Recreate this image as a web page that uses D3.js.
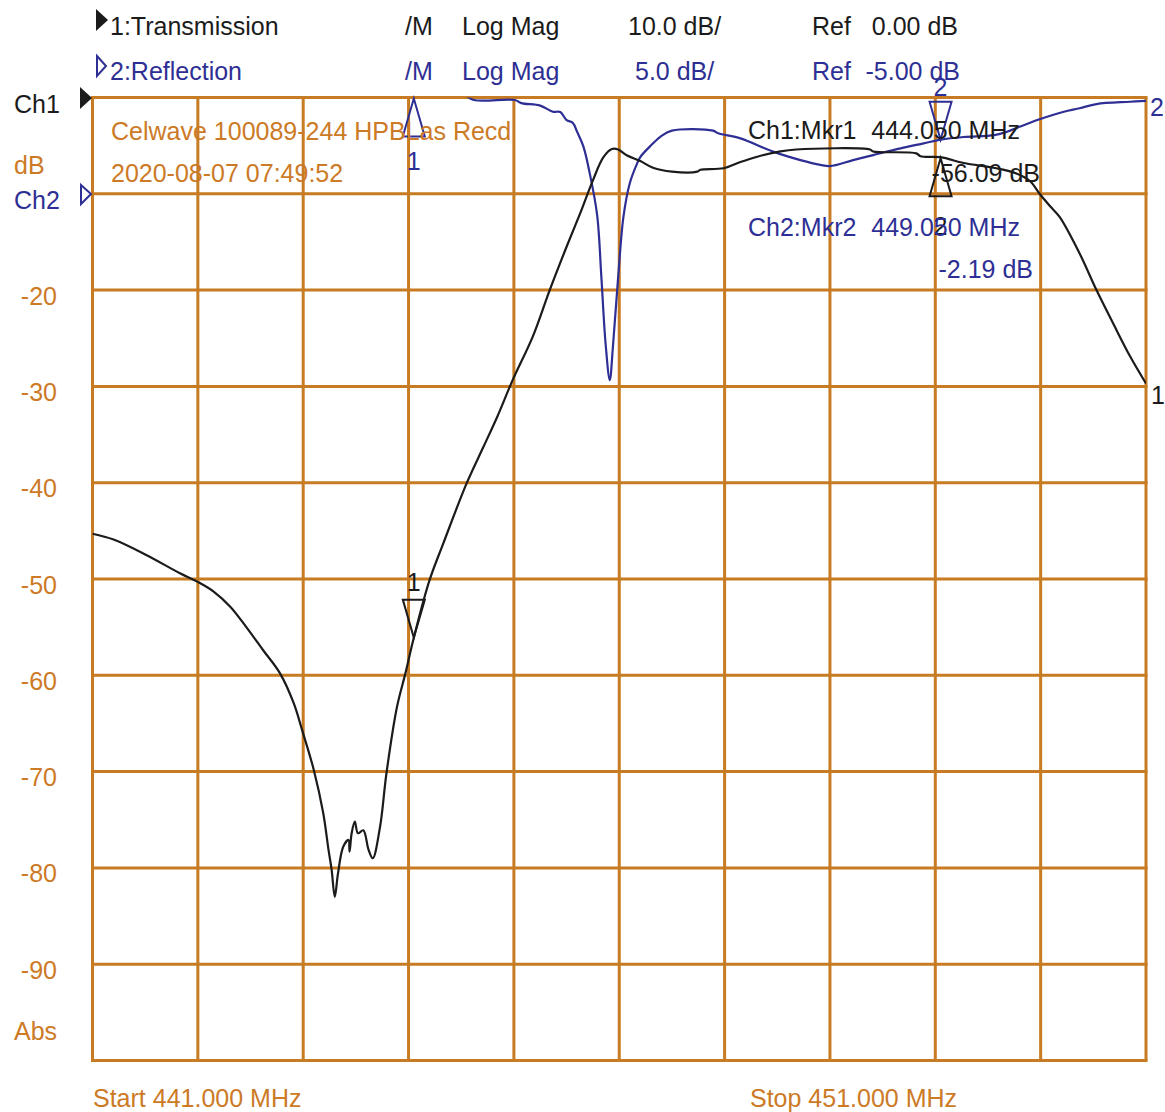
<!DOCTYPE html>
<html>
<head>
<meta charset="utf-8">
<script src="https://cdn.jsdelivr.net/npm/d3@7"></script>
<style>
  html, body { margin: 0; padding: 0; background: #fff; }
  svg { display: block; font-family: "Liberation Sans", Arial, sans-serif; }
</style>
</head>
<body>
<svg id="chart" width="1165" height="1112"></svg>
<script>
// Sweep: 441 to 451 MHz
const freqStart = 441, freqStop = 451;
const freqGrid = d3.range(441, 452, 1);

// Trace 1: Transmission (Ch1, 10 dB/div, ref 0 dB at top line)
const transFreq = [441.00, 441.20, 441.51, 441.83, 442.00, 442.15, 442.31, 442.46, 442.62, 442.78,
  442.91, 442.99, 443.10, 443.19, 443.24, 443.27, 443.30, 443.33, 443.38, 443.43,
  443.44, 443.46, 443.49, 443.52, 443.57, 443.62, 443.66, 443.73, 443.79, 443.89,
  443.97, 444.05, 444.20, 444.33, 444.55, 444.71, 444.84, 444.99, 445.18, 445.34,
  445.50, 445.63, 445.75, 445.85, 445.93, 445.99, 446.07, 446.20, 446.32, 446.50,
  446.74, 446.77, 446.99, 447.15, 447.31, 447.53, 447.68, 448.38, 448.41, 448.82,
  448.86, 449.05, 449.27, 449.58, 449.77, 449.90, 449.99, 450.09, 450.18, 450.37,
  450.53, 450.69, 450.85, 451.00];
const transDb = [-45.3, -45.9, -47.5, -49.4, -50.3, -51.3, -52.9, -55.0, -57.4, -59.8,
  -62.9, -65.7, -69.8, -74.3, -78.1, -80.2, -83.0, -80.6, -77.8, -77.1,
  -78.3, -76.4, -75.2, -76.4, -76.1, -78.1, -79.0, -75.7, -70.2, -63.3,
  -59.8, -56.09, -50.1, -46.3, -40.1, -36.3, -33.2, -29.3, -24.8, -20.0,
  -15.5, -12.0, -8.6, -6.2, -5.35, -5.4, -6.0, -6.6, -7.3, -7.7,
  -7.7, -7.5, -7.35, -6.7, -6.15, -5.6, -5.4, -5.4, -5.6, -5.8,
  -6.1, -6.2, -6.8, -7.35, -7.9, -8.7, -10.0, -11.3, -12.4, -16.2,
  -20.0, -23.5, -26.9, -29.7];

// Trace 2: Reflection (Ch2, 5 dB/div, ref -5 dB at first line below top)
const reflFreq = [441.00, 442.00, 443.00, 444.00, 444.50, 444.62, 445.01, 445.07, 445.25, 445.37,
  445.44, 445.50, 445.56, 445.60, 445.66, 445.72, 445.79, 445.83, 445.87, 445.91,
  445.94, 445.99, 446.04, 446.10, 446.17, 446.20, 446.29, 446.39, 446.50, 446.89,
  446.94, 447.15, 447.46, 447.72, 447.91, 448.00, 448.22, 448.41, 448.67, 448.89,
  449.05, 449.27, 449.56, 449.68, 449.80, 449.99, 450.22, 450.37, 450.53, 450.85, 451.00];
const reflDb = [0.4, 0.4, 0.35, 0.3, 0.2, -0.13, -0.13, -0.29, -0.42, -0.74,
  -0.75, -1.17, -1.32, -1.78, -2.55, -3.94, -6.10, -9.30, -12.76, -14.67,
  -12.94, -9.30, -6.19, -4.45, -3.42, -3.09, -2.55, -2.04, -1.72, -1.72,
  -1.86, -2.12, -2.81, -3.25, -3.50, -3.56, -3.25, -2.99, -2.64, -2.38,
  -2.19, -2.05, -1.95, -1.78, -1.52, -1.13, -0.74, -0.56, -0.34, -0.22, -0.17];

// Markers
const marker1Freq = 444.05, marker1Ch1Db = -56.09;
const marker2Freq = 449.05, marker2Ch1Db = -6.2, marker2Ch2Db = -2.19;

// Ch1 scale tick labels (left)
const ch1TickValues = [-20, -30, -40, -50, -60, -70, -80, -90];

// Header text
const headerTrace1 = ["1:Transmission", "/M", "Log Mag", "10.0 dB/", "Ref", "0.00 dB"];
const headerTrace2 = ["2:Reflection", "/M", "Log Mag", "5.0 dB/", "Ref", "-5.00 dB"];
const titleLines = ["Celwave 100089-244 HPBLas Recd", "2020-08-07 07:49:52"];
const mkr1Readout = ["Ch1:Mkr1", "444.050 MHz", "-56.09 dB"];
const mkr2Readout = ["Ch2:Mkr2", "449.050 MHz", "-2.19 dB"];
const sweepLabels = ["Start 441.000 MHz", "Stop 451.000 MHz"];

const ORANGE = "#c77b22";
const ORANGE_TXT = "#cc7a26";
const BLUE = "#2e2f94";
const BLACK = "#1b1b1b";
const FS = 25;

const svg = d3.select("#chart");
const plotL = 92.5, plotR = 1146, plotT = 97.5, plotB = 1060.5;

const x = d3.scaleLinear().domain([freqStart, freqStop]).range([plotL, plotR]);
const y1 = d3.scaleLinear().domain([-100, 0]).range([plotB, plotT]);
const y2 = d3.scaleLinear().domain([-50, 0]).range([plotB, plotT]);

svg.append("rect").attr("width", 1165).attr("height", 1112).attr("fill", "#fff");

// Grid
const grid = svg.append("g").attr("stroke", ORANGE).attr("stroke-width", 3);
grid.selectAll("line.v").data(freqGrid).join("line")
  .attr("class", "v")
  .attr("x1", d => x(d)).attr("x2", d => x(d))
  .attr("y1", plotT).attr("y2", plotB);
grid.selectAll("line.h").data(d3.range(-100, 1, 10)).join("line")
  .attr("class", "h")
  .attr("y1", d => y1(d)).attr("y2", d => y1(d))
  .attr("x1", plotL - 1.5).attr("x2", plotR + 1.5);

// Left scale labels
const yAxis = d3.axisLeft(y1).tickValues(ch1TickValues).tickSize(0).tickPadding(0)
  .tickFormat(d => String(d));
const axG = svg.append("g").attr("transform", "translate(57,0)").call(yAxis);
axG.select(".domain").remove();
axG.selectAll("text")
  .attr("fill", ORANGE_TXT).attr("font-size", FS)
  .attr("font-family", "'Liberation Sans', Arial, sans-serif")
  .attr("dy", "0.72em").attr("y", -4);

// Traces
svg.append("clipPath").attr("id", "plot-clip").append("rect")
  .attr("x", plotL).attr("y", plotT).attr("width", plotR - plotL).attr("height", plotB - plotT);

const transLine = d3.line().curve(d3.curveCatmullRom.alpha(0.5))
  .x((d, i) => x(transFreq[i])).y(d => y1(d));
const reflLine = d3.line().curve(d3.curveCatmullRom.alpha(0.5))
  .x((d, i) => x(reflFreq[i])).y(d => y2(d));

const traces = svg.append("g").attr("clip-path", "url(#plot-clip)");
traces.append("path").attr("d", reflLine(reflDb))
  .attr("fill", "none").attr("stroke", BLUE).attr("stroke-width", 2.2).attr("stroke-linejoin", "round");
traces.append("path").attr("d", transLine(transDb))
  .attr("fill", "none").attr("stroke", BLACK).attr("stroke-width", 2.2).attr("stroke-linejoin", "round");

// Marker triangles
const triW = 11, triH = 38;
function triDown(cx, ty) { return `M${cx},${ty}L${cx - triW},${ty - triH}L${cx + triW},${ty - triH}Z`; }
function triUp(cx, ty) { return `M${cx},${ty}L${cx - triW},${ty + triH}L${cx + triW},${ty + triH}Z`; }
const mk = svg.append("g").attr("fill", "none").attr("stroke-width", 2);
// Marker 1 on trace 1
mk.append("path").attr("d", triDown(x(marker1Freq), y1(marker1Ch1Db))).attr("stroke", BLACK);
// Marker 1 on trace 2 (above display)
mk.append("path").attr("d", triUp(x(marker1Freq), plotT + 1)).attr("stroke", BLUE);
// Marker 2 on trace 2
mk.append("path").attr("d", triDown(x(marker2Freq), y2(marker2Ch2Db))).attr("stroke", BLUE);
// Marker 2 on trace 1
mk.append("path").attr("d", triUp(x(marker2Freq), y1(marker2Ch1Db) + 1)).attr("stroke", BLACK);

function txt(g, s, px, py, color, anchor) {
  return g.append("text").attr("x", px).attr("y", py).attr("fill", color)
    .attr("font-size", FS).attr("text-anchor", anchor || "start").text(s);
}
const labels = svg.append("g");
txt(labels, "1", x(marker1Freq), y1(marker1Ch1Db) - 47, BLACK, "middle");
txt(labels, "1", x(marker1Freq), plotT + 72, BLUE, "middle");
txt(labels, "2", x(marker2Freq), plotT - 2, BLUE, "middle");
txt(labels, "2", x(marker2Freq), y1(marker2Ch1Db) + 78, BLACK, "middle");

// Trace-end labels
txt(labels, "2", 1150, y2(reflDb[reflDb.length - 1]) + 15, BLUE);
txt(labels, "1", 1151, y1(transDb[transDb.length - 1]) + 20, BLACK);

// Header
const hdrX = [110, 405, 462, null, 812, null];
function header(arr, base, color, divX, refX) {
  txt(labels, arr[0], hdrX[0], base, color);
  txt(labels, arr[1], hdrX[1], base, color);
  txt(labels, arr[2], hdrX[2], base, color);
  txt(labels, arr[3], divX, base, color);
  txt(labels, arr[4], hdrX[4], base, color);
  txt(labels, arr[5], refX, base, color, "end");
}
header(headerTrace1, 35, BLACK, 628, 958);
header(headerTrace2, 80, BLUE, 635, 960);
labels.append("path").attr("d", "M96,9L108,20L96,31Z").attr("fill", BLACK);
labels.append("path").attr("d", "M97,56L106,66L97,76Z").attr("fill", "none").attr("stroke", BLUE).attr("stroke-width", 2);

// Left channel labels
txt(labels, "Ch1", 14, 113, BLACK);
labels.append("path").attr("d", "M80,87L92,98L80,109Z").attr("fill", BLACK);
txt(labels, "dB", 14, 174, ORANGE_TXT);
txt(labels, "Ch2", 14, 209, BLUE);
labels.append("path").attr("d", "M81,185L91,194L81,204Z").attr("fill", "none").attr("stroke", BLUE).attr("stroke-width", 2);
txt(labels, "Abs", 14, 1040, ORANGE_TXT);

// Title lines
txt(labels, titleLines[0], 111, 140, ORANGE_TXT);
txt(labels, titleLines[1], 111, 182, ORANGE_TXT);

// Marker readouts
txt(labels, mkr1Readout[0], 748, 139, BLACK);
txt(labels, mkr1Readout[1], 1020, 139, BLACK, "end");
txt(labels, mkr1Readout[2], 1040, 182, BLACK, "end");
txt(labels, mkr2Readout[0], 748, 236, BLUE);
txt(labels, mkr2Readout[1], 1020, 236, BLUE, "end");
txt(labels, mkr2Readout[2], 1033, 278, BLUE, "end");

// Sweep range
txt(labels, sweepLabels[0], 93, 1107, ORANGE_TXT);
txt(labels, sweepLabels[1], 750, 1107, ORANGE_TXT);
</script>
</body>
</html>
